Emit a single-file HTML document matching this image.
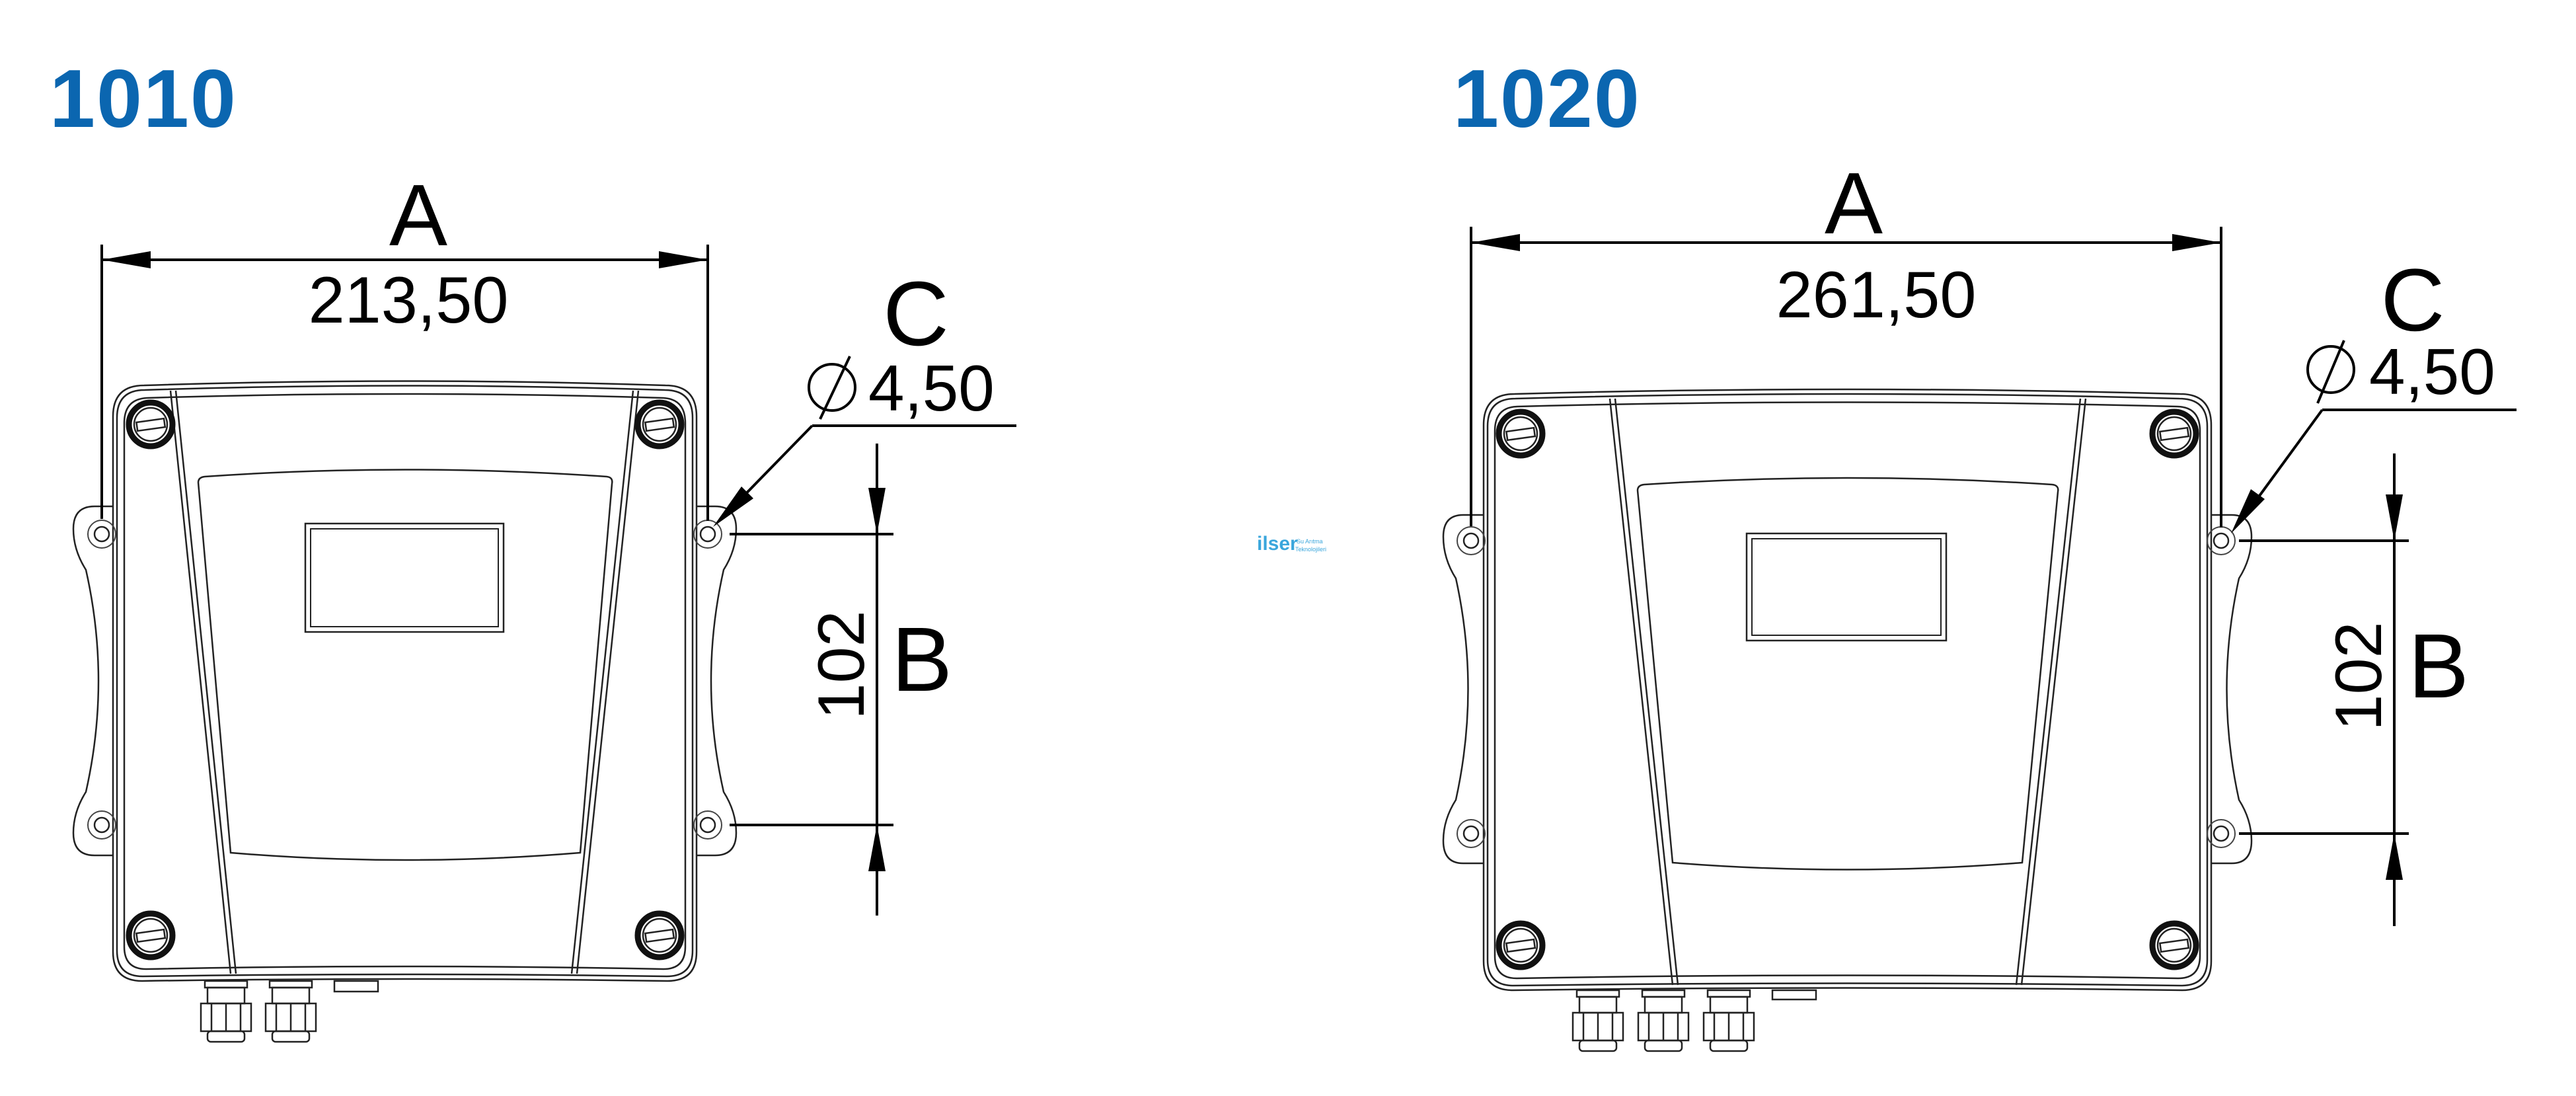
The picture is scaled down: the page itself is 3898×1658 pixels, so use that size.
<!DOCTYPE html>
<html><head><meta charset="utf-8"><style>
html,body{margin:0;padding:0;background:#fff;}
svg{display:block;}
text{font-family:"Liberation Sans",sans-serif;}
</style></head><body>
<svg width="3898" height="1658" viewBox="0 0 3898 1658" xmlns="http://www.w3.org/2000/svg">
<defs>
<g id="screw">
<circle r="33" fill="none" stroke="#111" stroke-width="9"/>
<circle r="25" fill="none" stroke="#222" stroke-width="2.5"/>
<rect x="-21" y="-6" width="42" height="13" fill="none" stroke="#222" stroke-width="2.5" transform="rotate(-8)"/>
</g>
<g id="hole">
<circle r="11" fill="none" stroke="#222" stroke-width="2.5"/>
<circle r="21" fill="none" stroke="#444" stroke-width="2"/>
</g>
<g id="gland">
<rect x="6" y="0" width="64" height="10" fill="none" stroke="#222" stroke-width="2.5"/>
<rect x="10" y="10" width="56" height="24" fill="none" stroke="#222" stroke-width="2.5"/>
<rect x="0" y="34" width="76" height="42" fill="none" stroke="#222" stroke-width="2.5"/>
<line x1="16" y1="34" x2="16" y2="76" stroke="#222" stroke-width="2.5"/>
<line x1="38" y1="34" x2="38" y2="76" stroke="#222" stroke-width="2.5"/>
<line x1="60" y1="34" x2="60" y2="76" stroke="#222" stroke-width="2.5"/>
<rect x="10" y="76" width="56" height="16" rx="5" fill="none" stroke="#222" stroke-width="2.5"/>
</g>
</defs>

<text x="75" y="192" font-size="124" font-weight="bold" fill="#0b66b0" style="letter-spacing:2px">1010</text>
<text x="2199" y="192" font-size="124" font-weight="bold" fill="#0b66b0" style="letter-spacing:2px">1020</text>

<text x="1902" y="832" font-size="30" font-weight="bold" fill="#3aa6dc">ilser</text>
<text x="1962" y="822" font-size="9" fill="#3aa6dc">Su Arıtma</text>
<text x="1960" y="834" font-size="9" fill="#3aa6dc">Teknolojileri</text>

<g fill="none" stroke="#222" stroke-width="2.5">
<path d="M175,766 L143,766 Q111,766 111,800 Q111,832 130,862 Q168,1030 130,1198 Q111,1228 111,1260 Q111,1294 143,1294 L175,1294"/>
<path d="M1050,766 L1082,766 Q1114,766 1114,800 Q1114,832 1095,862 Q1057,1030 1095,1198 Q1114,1228 1114,1260 Q1114,1294 1082,1294 L1050,1294"/>
<path d="M171,630 Q171,583 218,583 Q612,570 1007,583 Q1054,583 1054,630 L1054,1440 Q1054,1484 1010,1484 Q612,1478 215,1484 Q171,1484 171,1440 Z" fill="#fff"/>
<path d="M177,632 Q177,590 219,590 Q612,577 1006,590 Q1048,590 1048,632 L1048,1438 Q1048,1477 1009,1477 Q612,1471 216,1477 Q177,1477 177,1438 Z"/>
<path d="M188,640 Q188,604 222,602 Q612,590 1004,602 Q1037,604 1037,640 L1037,1432 Q1037,1466 1004,1466 Q612,1458 221,1466 Q188,1466 188,1432 Z"/>
<line x1="258" y1="591" x2="349" y2="1473"/>
<line x1="266" y1="591" x2="357" y2="1473"/>
<line x1="966" y1="591" x2="873" y2="1473"/>
<line x1="958" y1="591" x2="865" y2="1473"/>
<path d="M300,730 Q300,722 310,721 Q612,700 918,721 Q928,722 926,732 L878,1290 Q612,1312 349,1290 Z"/>
<rect x="462" y="792" width="300" height="164"/>
<rect x="470" y="800" width="284" height="148" stroke-width="2"/>
</g>
<use href="#screw" x="228" y="642"/>
<use href="#screw" x="998" y="642"/>
<use href="#screw" x="228" y="1415"/>
<use href="#screw" x="998" y="1415"/>
<use href="#hole" x="154" y="808"/>
<use href="#hole" x="154" y="1248"/>
<use href="#hole" x="1071" y="808"/>
<use href="#hole" x="1071" y="1248"/>
<use href="#gland" x="304" y="1484"/>
<use href="#gland" x="402" y="1484"/>
<rect x="506" y="1484" width="66" height="16" fill="none" stroke="#222" stroke-width="2.5"/>

<g stroke="#000" stroke-width="4" fill="none">
<line x1="154" y1="370" x2="154" y2="785"/>
<line x1="1071" y1="370" x2="1071" y2="788"/>
<line x1="154" y1="393" x2="1071" y2="393"/>
<line x1="1229" y1="644" x2="1538" y2="644"/>
<line x1="1229" y1="644" x2="1110" y2="766"/>
<line x1="1104" y1="808" x2="1352" y2="808"/>
<line x1="1104" y1="1248" x2="1352" y2="1248"/>
<line x1="1327" y1="671" x2="1327" y2="1385"/>
<circle cx="1259" cy="586" r="35" stroke-width="4"/>
<line x1="1241" y1="634" x2="1286" y2="539"/>
</g>
<g fill="#000">
<polygon points="154,393 228,380 228,406"/>
<polygon points="1071,393 997,380 997,406"/>
<polygon points="1079,797 1122,736 1140,754"/>
<polygon points="1327,808 1314,738 1340,738"/>
<polygon points="1327,1248 1314,1318 1340,1318"/>
</g>
<text x="633" y="371" font-size="132" text-anchor="middle">A</text>
<text x="618" y="488" font-size="99" text-anchor="middle">213,50</text>
<text x="1386" y="522" font-size="138" text-anchor="middle">C</text>
<text x="1314" y="621" font-size="98">4,50</text>
<text x="1395" y="1045" font-size="138" text-anchor="middle">B</text>
<text transform="translate(1307,1006) rotate(-90)" font-size="99" text-anchor="middle">102</text>

<g fill="none" stroke="#222" stroke-width="2.5">
<path d="M2249,779 L2214,779 Q2184,779 2184,812 Q2184,845 2203,875 Q2240,1042 2203,1210 Q2184,1240 2184,1272 Q2184,1306 2214,1306 L2249,1306"/>
<path d="M3342,779 L3377,779 Q3407,779 3407,812 Q3407,845 3388,875 Q3351,1042 3388,1210 Q3407,1240 3407,1272 Q3407,1306 3377,1306 L3342,1306"/>
<path d="M2245,643 Q2245,596 2292,596 Q2795,582 3299,596 Q3346,596 3346,643 L3346,1454 Q3346,1498 3302,1498 Q2795,1491 2289,1498 Q2245,1498 2245,1454 Z" fill="#fff"/>
<path d="M2251,645 Q2251,603 2293,603 Q2795,589 3298,603 Q3340,603 3340,645 L3340,1452 Q3340,1491 3301,1491 Q2795,1484 2290,1491 Q2251,1491 2251,1452 Z"/>
<path d="M2262,652 Q2262,616 2296,615 Q2795,602 3295,615 Q3329,616 3329,652 L3329,1446 Q3329,1480 3296,1480 Q2795,1471 2295,1480 Q2262,1480 2262,1446 Z"/>
<line x1="2436" y1="603" x2="2531" y2="1490"/>
<line x1="2444" y1="603" x2="2539" y2="1490"/>
<line x1="3156" y1="603" x2="3059" y2="1490"/>
<line x1="3148" y1="603" x2="3051" y2="1490"/>
<path d="M2478,742 Q2478,734 2488,733 Q2795,713 3105,733 Q3116,734 3114,744 L3060,1305 Q2795,1326 2531,1305 Z"/>
<rect x="2643" y="807" width="302" height="162"/>
<rect x="2651" y="815" width="286" height="146" stroke-width="2"/>
</g>
<use href="#screw" x="2301" y="656"/>
<use href="#screw" x="3290" y="656"/>
<use href="#screw" x="2301" y="1430"/>
<use href="#screw" x="3290" y="1430"/>
<use href="#hole" x="2226" y="818"/>
<use href="#hole" x="2226" y="1261"/>
<use href="#hole" x="3361" y="818"/>
<use href="#hole" x="3361" y="1261"/>
<use href="#gland" x="2380" y="1498"/>
<use href="#gland" x="2479" y="1498"/>
<use href="#gland" x="2578" y="1498"/>
<rect x="2682" y="1498" width="66" height="14" fill="none" stroke="#222" stroke-width="2.5"/>

<g stroke="#000" stroke-width="4" fill="none">
<line x1="2226" y1="343" x2="2226" y2="796"/>
<line x1="3361" y1="343" x2="3361" y2="798"/>
<line x1="2226" y1="367" x2="3361" y2="367"/>
<line x1="3514" y1="620" x2="3808" y2="620"/>
<line x1="3514" y1="620" x2="3400" y2="776"/>
<line x1="3388" y1="818" x2="3645" y2="818"/>
<line x1="3388" y1="1261" x2="3645" y2="1261"/>
<line x1="3623" y1="686" x2="3623" y2="1401"/>
<circle cx="3527" cy="559" r="35" stroke-width="4"/>
<line x1="3507" y1="610" x2="3547" y2="515"/>
</g>
<g fill="#000">
<polygon points="2226,367 2300,354 2300,380"/>
<polygon points="3361,367 3287,354 3287,380"/>
<polygon points="3376,807 3406,740 3427,755"/>
<polygon points="3623,818 3610,748 3636,748"/>
<polygon points="3623,1261 3610,1331 3636,1331"/>
</g>
<text x="2805" y="353" font-size="132" text-anchor="middle">A</text>
<text x="2839" y="480" font-size="99" text-anchor="middle">261,50</text>
<text x="3651" y="500" font-size="134" text-anchor="middle">C</text>
<text x="3585" y="596" font-size="98">4,50</text>
<text x="3690" y="1055" font-size="138" text-anchor="middle">B</text>
<text transform="translate(3603,1023) rotate(-90)" font-size="99" text-anchor="middle">102</text>
</svg>
</body></html>
